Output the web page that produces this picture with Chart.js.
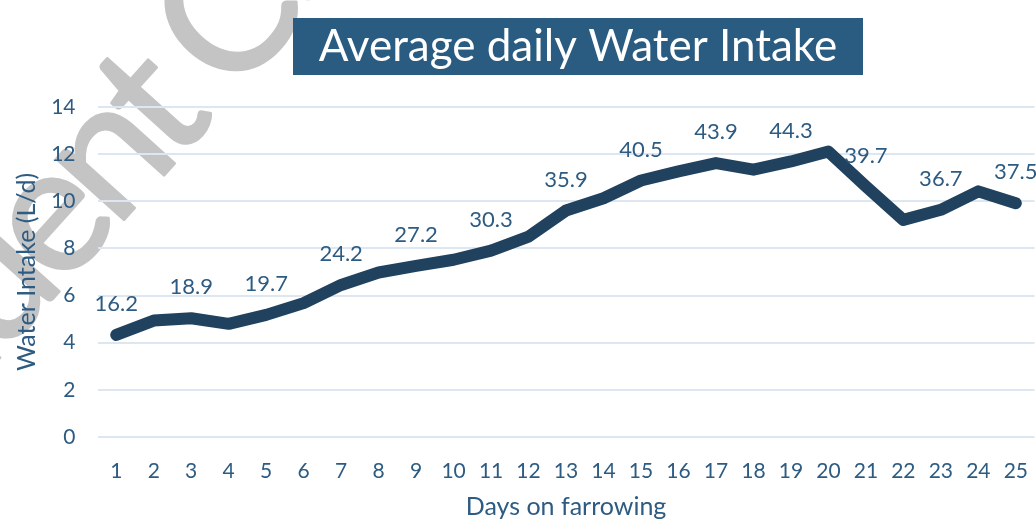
<!DOCTYPE html>
<html>
<head>
    <style>
        html, body {
            margin: 0;
            padding: 0;
            background: #ffffff;
            overflow: hidden;
        }
        #wrap {
            position: relative;
            width: 1042px;
            height: 519px;
        }
    </style>
</head>
<body>
    <div id="wrap">
        <canvas id="intakeChart"></canvas>
    </div>

    <script src="https://cdn.jsdelivr.net/npm/chart.js@4.4.0/dist/chart.umd.min.js"></script>
    <script>
        // Days on farrowing (x categories)
        const days = ['1', '2', '3', '4', '5', '6', '7', '8', '9', '10', '11', '12', '13',
                      '14', '15', '16', '17', '18', '19', '20', '21', '22', '23', '24', '25'];

        // Average daily water intake, L/d
        const intake = [4.33, 4.94, 5.04, 4.80, 5.18, 5.68, 6.45, 6.98, 7.26, 7.52, 7.91, 8.50, 9.61,
                        10.13, 10.88, 11.27, 11.62, 11.34, 11.69, 12.11, 10.63, 9.21, 9.64, 10.42, 9.92];

        // Labels written above every other point
        const pointLabels = ['16.2', null, '18.9', null, '19.7', null, '24.2', null, '27.2', null,
                             '30.3', null, '35.9', null, '40.5', null, '43.9', null, '44.3', null,
                             '39.7', null, '36.7', null, '37.5'];

        // y axis range
        const yMin = 0;
        const yMax = 14;
        const yStep = 2;

        const textColor = '#2d5b82';
        const lineColor = '#21425f';

        // grey watermark behind everything
        const watermark = {
            id: 'watermark',
            beforeDraw(chart) {
                const ctx = chart.ctx;
                ctx.save();
                ctx.translate(60, 291);
                ctx.rotate(-48 * Math.PI / 180);
                ctx.font = '180px Lato';
                ctx.letterSpacing = '-12px';
                ctx.fillStyle = '#c4c4c4';
                ctx.strokeStyle = '#c4c4c4';
                ctx.lineWidth = 2.5;
                ctx.lineJoin = 'round';
                ctx.textBaseline = 'alphabetic';
                const lead = ctx.measureText('Stud').width;
                ctx.fillText('Student Copy', -lead, 0);
                ctx.strokeText('Student Copy', -lead, 0);
                ctx.restore();
            }
        };

        // title in a filled box
        const boxTitle = {
            id: 'boxTitle',
            afterDraw(chart) {
                const ctx = chart.ctx;
                ctx.save();
                ctx.fillStyle = '#2a5c82';
                ctx.fillRect(293, 18, 570, 57);
                ctx.fillStyle = '#ffffff';
                ctx.font = '44px Lato';
                ctx.textAlign = 'center';
                ctx.textBaseline = 'middle';
                ctx.fillText('Average daily Water Intake', 578, 47);
                ctx.restore();
            }
        };

        // value labels above the line
        const valueLabels = {
            id: 'valueLabels',
            afterDatasetsDraw(chart) {
                const ctx = chart.ctx;
                const meta = chart.getDatasetMeta(0);
                ctx.save();
                ctx.font = '22px Lato';
                ctx.fillStyle = textColor;
                ctx.textAlign = 'center';
                ctx.textBaseline = 'middle';
                meta.data.forEach((pt, i) => {
                    if (pointLabels[i]) {
                        ctx.fillText(pointLabels[i], pt.x, pt.y - 31);
                    }
                });
                ctx.restore();
            }
        };

        const ctx = document.getElementById('intakeChart').getContext('2d');
        new Chart(ctx, {
            type: 'line',
            data: {
                labels: days,
                datasets: [{
                    label: 'Water Intake',
                    data: intake,
                    borderColor: lineColor,
                    borderWidth: 12,
                    borderCapStyle: 'round',
                    borderJoinStyle: 'round',
                    pointRadius: 0,
                    tension: 0,
                    fill: false,
                    clip: false
                }]
            },
            options: {
                responsive: true,
                maintainAspectRatio: false,
                animation: false,
                layout: {
                    autoPadding: false,
                    padding: { top: 107, left: 0, right: 0, bottom: 0 }
                },
                plugins: {
                    legend: { display: false },
                    tooltip: { enabled: false },
                    title: { display: false }
                },
                scales: {
                    x: {
                        offset: true,
                        grid: { display: false },
                        border: { display: false },
                        ticks: {
                            color: textColor,
                            font: { family: 'Lato', size: 21 },
                            padding: 14,
                            maxRotation: 0,
                            autoSkip: false
                        },
                        title: {
                            display: true,
                            text: 'Days on farrowing',
                            color: textColor,
                            font: { family: 'Lato', size: 25, lineHeight: 1 },
                            padding: 0
                        },
                        afterFit(scale) {
                            scale.height = 82;
                        }
                    },
                    y: {
                        min: yMin,
                        max: yMax,
                        grid: {
                            color: '#dce7f2',
                            lineWidth: 2,
                            drawTicks: false
                        },
                        border: { display: false },
                        ticks: {
                            stepSize: yStep,
                            color: textColor,
                            font: { family: 'Lato', size: 21 },
                            padding: 22
                        },
                        title: {
                            display: true,
                            text: 'Water Intake (L/d)',
                            color: textColor,
                            font: { family: 'Lato', size: 25 },
                            padding: { top: 12, bottom: 0 }
                        },
                        afterFit(scale) {
                            scale.width = 97.5;
                        }
                    }
                }
            },
            plugins: [watermark, valueLabels, boxTitle]
        });
    </script>
</body>
</html>
